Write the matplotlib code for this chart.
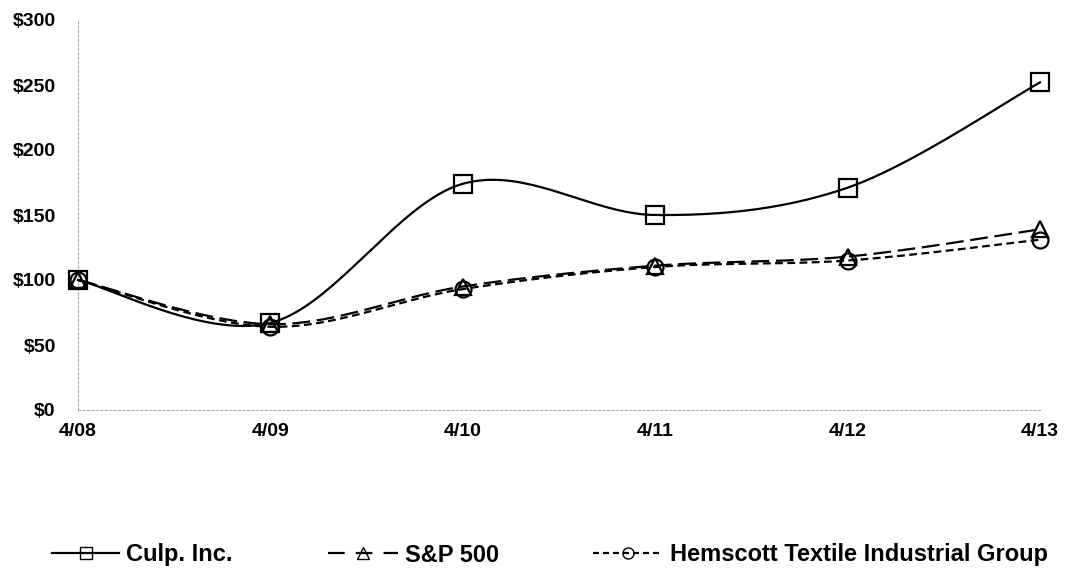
import numpy as np
import matplotlib
matplotlib.use("Agg")
import matplotlib.pyplot as plt
from matplotlib.lines import Line2D

categories = ["4/08", "4/09", "4/10", "4/11", "4/12", "4/13"]
culp = [100, 67, 174, 150, 171, 252]
sp500 = [100, 66, 95, 111, 118, 139]
hemscott = [100, 64, 93, 110, 115, 131]
yticks = [0, 50, 100, 150, 200, 250, 300]
ytick_labels = ["$0", "$50", "$100", "$150", "$200", "$250", "$300"]
series_names = ["Culp. Inc.", "S&P 500", "Hemscott Textile Industrial Group"]

plt.rcParams['font.family'] = ['Liberation Sans', 'DejaVu Sans']


def smooth(xs, ys, n=40):
    xs = np.asarray(xs, float)
    ys = np.asarray(ys, float)
    P = np.column_stack([xs, ys])
    Pe = np.vstack([P[0], P, P[-1]])
    out = []
    t = np.linspace(0, 1, n)[:, None]
    for i in range(len(P) - 1):
        p0, p1, p2, p3 = Pe[i], Pe[i + 1], Pe[i + 2], Pe[i + 3]
        c1 = p1 + (p2 - p0) / 6.0
        c2 = p2 - (p3 - p1) / 6.0
        seg = ((1 - t) ** 3) * p1 + 3 * ((1 - t) ** 2) * t * c1 + 3 * (1 - t) * t ** 2 * c2 + t ** 3 * p2
        out.append(seg if i == 0 else seg[1:])
    out = np.vstack(out)
    return out[:, 0], out[:, 1]


W, H = 1069, 570
fig = plt.figure(figsize=(W / 100, H / 100), dpi=100)
ax = fig.add_axes([78 / W, 160 / H, (1040 - 78) / W, 390 / H])

x = np.arange(len(categories))
styles = [
    dict(ls='-', marker='s', ms=13.5),
    dict(ls=(0, (8, 3)), marker='^', ms=11),
    dict(ls=(0, (3.5, 2)), marker='o', ms=11.5),
]
data = [culp, sp500, hemscott]
handles = []
for vals, st, name in zip(data, styles, series_names):
    sx, sy = smooth(x, vals)
    ax.plot(sx, sy, color='black', lw=1.6, ls=st['ls'], clip_on=False, zorder=3)
    ax.plot(x, vals, ls='none', marker=st['marker'], ms=st['ms'], mfc='none',
            mec='black', mew=1.6, clip_on=False, zorder=4)

leg_styles = ['-', (0, (7.5, 5)), (0, (2.7, 1.8))]
for st, ls in zip(styles, leg_styles):
    handles.append(Line2D([], [], color='black', lw=1.6, ls=ls,
                          marker=st['marker'], ms=8, mfc='none', mec='black', mew=1.0))

ax.set_xlim(0, 5)
ax.set_ylim(0, 300)
ax.set_yticks(yticks)
ax.set_yticklabels(ytick_labels)
ax.set_xticks(x)
ax.set_xticklabels(categories)
for s in ['top', 'right']:
    ax.spines[s].set_visible(False)
for s in ['left', 'bottom']:
    ax.spines[s].set_color('#aaaaaa')
    ax.spines[s].set_linestyle((0, (2, 2)))
    ax.spines[s].set_linewidth(0.8)
ax.tick_params(axis='both', length=0, labelsize=14)
ax.tick_params(axis='y', pad=16)
ax.tick_params(axis='x', pad=9)
for lab in ax.get_xticklabels() + ax.get_yticklabels():
    lab.set_fontweight('bold')

# legend entries
ly = (H - 555) / H
anchors = [(52 / W, ly), (328 / W, ly), (593 / W, ly)]
hlens = [2.85, 2.95, 2.95]
for h, name, anc, hl in zip(handles, series_names, anchors, hlens):
    fig.legend([h], [name], loc='center left', bbox_to_anchor=anc,
               bbox_transform=fig.transFigure, frameon=False,
               handlelength=hl, handletextpad=0.3, borderpad=0, borderaxespad=0,
               prop=dict(weight='bold', size=17))

fig.savefig("out.png", dpi=100)
